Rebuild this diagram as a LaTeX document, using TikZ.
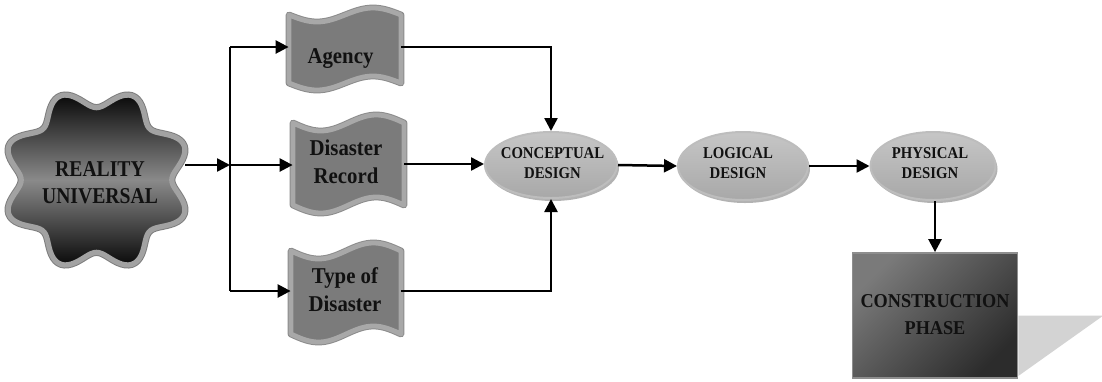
\documentclass[tikz,border=0pt]{standalone}
\usepackage{fontspec}
\setmainfont{Liberation Serif}
\newfontfamily\wavefont[FakeStretch=0.92]{Liberation Serif}
\newfontfamily\starfont[FakeStretch=0.87]{Liberation Serif}
\newfontfamily\ellfont[FakeStretch=0.9]{Liberation Serif}
\newfontfamily\boxfont[FakeStretch=0.93]{Liberation Serif}
\usetikzlibrary{arrows.meta,shapes.geometric,shadows}

\definecolor{waveFill}{HTML}{7B7B7B}
\definecolor{waveEdge}{HTML}{A8A8A8}
\definecolor{waveRim}{HTML}{8C8C8C}
\definecolor{ellTop}{HTML}{C6C6C6}
\definecolor{ellBot}{HTML}{A8A8A8}
\definecolor{ellEdge}{HTML}{BDBDBD}
\definecolor{starDark}{HTML}{0A0A0A}
\definecolor{starMid}{HTML}{8A8A8A}
\definecolor{starEdge}{HTML}{A2A2A2}
\definecolor{starRim}{HTML}{7E7E7E}
\definecolor{boxLight}{HTML}{7A7A7A}
\definecolor{boxDark}{HTML}{2C2C2C}
\definecolor{boxEdge}{HTML}{8E8E8E}
\definecolor{shadowGray}{HTML}{D3D3D3}
\definecolor{txt}{HTML}{111111}

\newcommand\wavepath[6]{%
  \path[#1] plot[domain=0:1,samples=49] ({#2+\x*(#3-#2)},{#4+#6*sin(360*\x)})
    -- plot[domain=1:0,samples=49] ({#2+\x*(#3-#2)},{#5+#6*sin(360*\x)}) -- cycle;}

\newcommand\starpath[1]{%
  \path[#1] plot[domain=0:360,samples=181]
    ({96.5+1.075*(79+9*cos(8*(\x-22.5)))*cos(\x)},{180+1.033*(79+9*cos(8*(\x-22.5)))*sin(\x)}) -- cycle;}

\tikzset{
  hit/.style={rectangle,inner sep=0pt,minimum height=34pt},
  waverim/.style={draw=waveRim,line width=3.4pt,line join=round},
  wavebody/.style={fill=waveFill,draw=waveEdge,line width=2.4pt,line join=round},
  wavetext/.style={font=\wavefont\bfseries\fontsize{11.3}{14}\selectfont,text=txt,align=center,anchor=base,inner sep=0pt},
  startext/.style={font=\starfont\bfseries\fontsize{11.3}{13.5}\selectfont,text=txt,align=center,anchor=base,inner sep=0pt},
  elltext/.style={font=\ellfont\bfseries\fontsize{8.2}{10}\selectfont,text=txt,align=center,anchor=base,inner sep=0pt},
  boxtext/.style={font=\boxfont\bfseries\fontsize{9.8}{13.5}\selectfont,text=txt,align=center,anchor=base,inner sep=0pt},
  ellnode/.style={shape=ellipse,inner sep=0pt,draw=ellEdge,line width=1pt,
    top color=ellTop,bottom color=ellBot,
    drop shadow={shadow xshift=1pt,shadow yshift=-1.5pt,fill=black,opacity=0.3}},
  consbox/.style={rectangle,inner sep=0pt,minimum width=82.5pt,minimum height=62.5pt,
    draw=boxEdge,line width=0.9pt,top color=boxLight,bottom color=boxDark,shading angle=45},
  conn/.style={line width=1.25pt,draw=black,line join=miter},
  arr/.style={conn,-{Triangle[length=6.5pt,width=6.5pt]}}
}

\begin{document}
\begin{tikzpicture}[x=0.5pt,y=-0.5pt]
\useasboundingbox (0,0) rectangle (1102,381);

% star
\starpath{draw=starRim,line width=3.6pt}
\starpath{draw=starEdge,line width=2.6pt,top color=starDark,bottom color=starDark,middle color=starMid}
\node[rectangle,inner sep=0pt,minimum width=88.5pt,minimum height=85pt,
  label={[startext,name=starT,xshift=1.75pt,yshift=-1.5pt]center:{REALITY\\UNIVERSAL}}] (star) at (96.5,180) {};

% wave shapes
\wavepath{waverim}{289}{401}{15}{83}{7}
\wavepath{wavebody}{289}{401}{15}{83}{7}
\wavepath{waverim}{293}{404}{123}{205}{8}
\wavepath{wavebody}{293}{404}{123}{205}{8}
\wavepath{waverim}{291}{401}{251}{334}{8}
\wavepath{wavebody}{291}{401}{251}{334}{8}

\node[hit,minimum width=56pt,
  label={[wavetext,name=agencyT,xshift=-2.25pt,yshift=-6pt]center:Agency}] (agency) at (345,47) {};
\node[hit,minimum width=55.5pt,minimum height=41pt,
  label={[wavetext,name=drecT,xshift=-1.25pt,yshift=1pt]center:{Disaster\\Record}}] (drec) at (348.5,164) {};
\node[hit,minimum width=55pt,minimum height=41pt,
  label={[wavetext,name=todT,xshift=-0.5pt,yshift=0.5pt]center:{Type of\\Disaster}}] (tod) at (346,291) {};

% ellipses
\node[ellnode,minimum width=66pt,minimum height=33pt,
  label={[elltext,name=conceptT,xshift=0.75pt,yshift=1pt]center:{CONCEPTUAL\\DESIGN}}] (concept) at (551,165) {};
\node[ellnode,minimum width=65pt,minimum height=34pt,
  label={[elltext,name=logicalT,xshift=-2.5pt,yshift=1.5pt]center:{LOGICAL\\DESIGN}}] (logical) at (743,166) {};
\node[ellnode,minimum width=62.5pt,minimum height=34pt,
  label={[elltext,name=physicalT,xshift=-1.5pt,yshift=1.5pt]center:{PHYSICAL\\DESIGN}}] (physical) at (933,166) {};

% construction phase
\node[consbox,label={[boxtext,name=consT,yshift=0.25pt]center:{CONSTRUCTION\\PHASE}}] (cons) at (935,315.5) {};
\fill[shadowGray] (cons.east) -- ++(85,0) -- ([yshift=1.5pt]cons.south east) -- cycle;

% junction
\coordinate (split) at (230,165);
\coordinate (jtop) at (230,47);
\coordinate (jbot) at (230,291);

% connectors
\draw[arr] (star.east |- split) -- (split);
\draw[conn] (jtop) -- (jbot);
\draw[arr] (jtop) -- (jtop -| agency.west);
\draw[arr] (split) -- (split -| drec.west);
\draw[arr] (jbot) -- (jbot -| tod.west);
\draw[arr] (agency.east) -| (concept.north);
\draw[arr] (drec.east) -- (drec.east -| concept.west);
\draw[arr] (tod.east) -| (concept.south);
\draw[arr] (concept.east) -- (logical.west);
\draw[arr] (logical.east) -- (physical.west);
\draw[arr] (cons.north |- physical.south) -- (cons.north);
\end{tikzpicture}
\end{document}
